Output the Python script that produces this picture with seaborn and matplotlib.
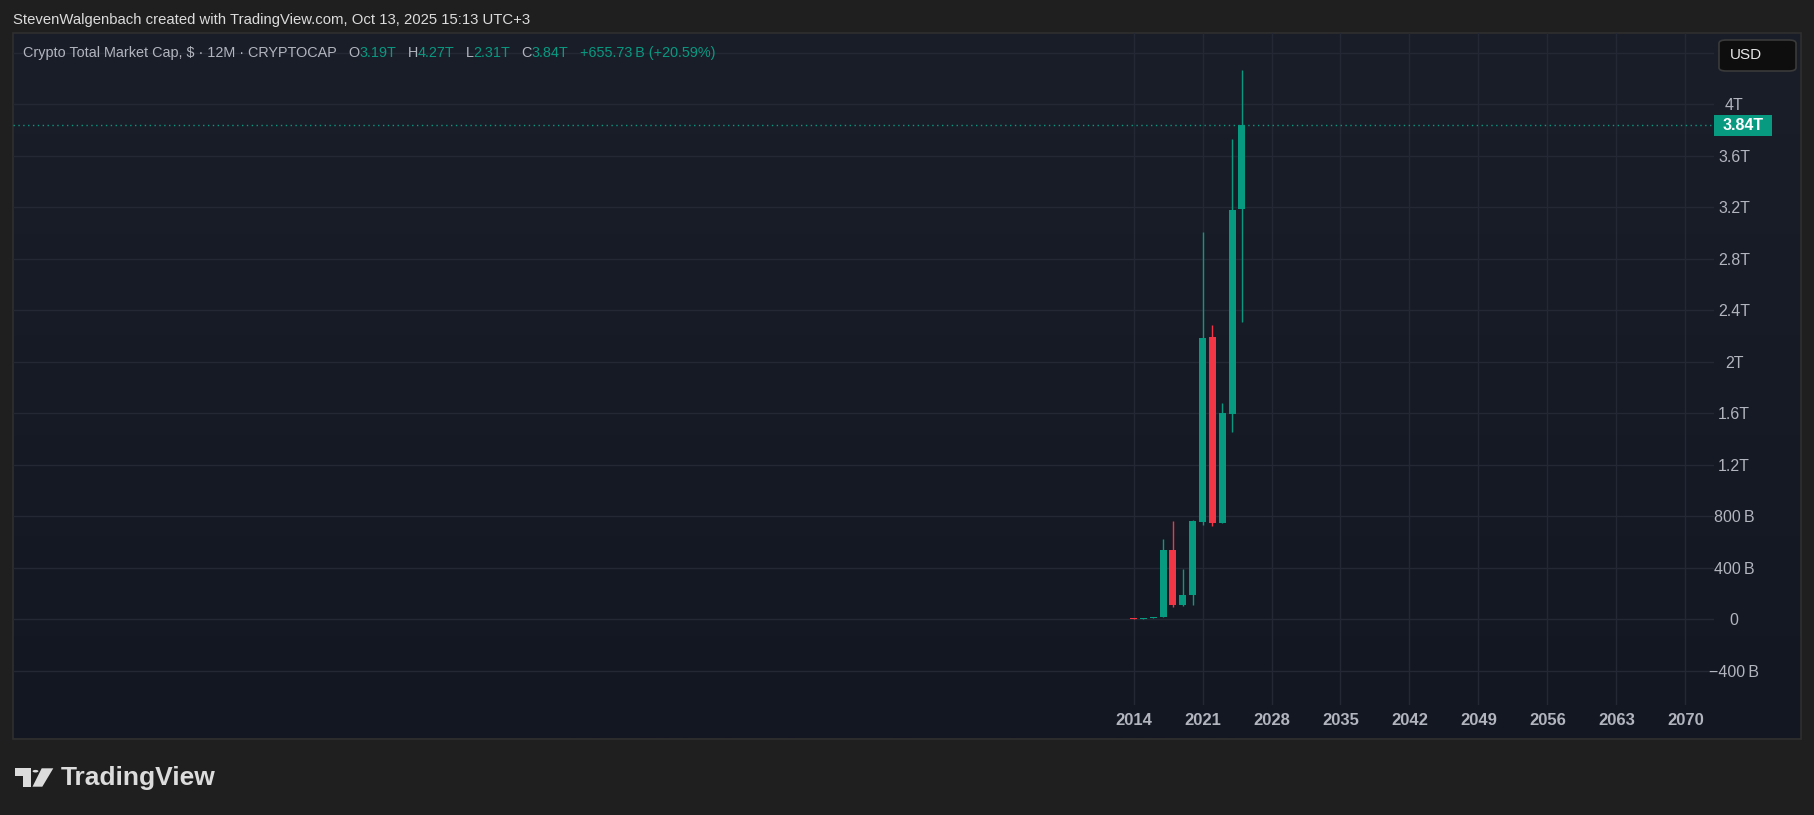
import numpy as np
import pandas as pd
import seaborn as sns
import matplotlib.pyplot as plt
from matplotlib.patches import Rectangle, FancyBboxPatch, Circle, Polygon
from matplotlib.colors import LinearSegmentedColormap
import matplotlib.transforms as mtrans

# yearly candles, values in trillions USD
years = [2014, 2015, 2016, 2017, 2018, 2019, 2020, 2021, 2022, 2023, 2024, 2025]
opens = [0.0105, 0.0055, 0.0071, 0.0177, 0.538, 0.111, 0.185, 0.756, 2.194, 0.748, 1.598, 3.19]
highs = [0.0125, 0.0080, 0.0180, 0.625, 0.764, 0.391, 0.772, 3.010, 2.289, 1.680, 3.732, 4.27]
lows = [0.0048, 0.0030, 0.0065, 0.0170, 0.098, 0.103, 0.111, 0.733, 0.725, 0.745, 1.455, 2.31]
closes = [0.0055, 0.0071, 0.0177, 0.538, 0.111, 0.185, 0.764, 2.186, 0.748, 1.603, 3.182, 3.84]

x_ticks = list(range(2014, 2071, 7))
y_ticks = [-0.4, 0, 0.4, 0.8, 1.2, 1.6, 2.0, 2.4, 2.8, 3.2, 3.6, 4.0, 4.4]
change_text = "+655.73\u2009B (+20.59%)"
header = "StevenWalgenbach created with TradingView.com, Oct 13, 2025 15:13 UTC+3"
symbol = "Crypto Total Market Cap, $ \u00b7 12M \u00b7 CRYPTOCAP"

df = pd.DataFrame({"year": years, "open": opens, "high": highs, "low": lows, "close": closes})
df["up"] = df["close"] >= df["open"]

GREEN = "#089981"
RED = "#f23645"
TXT = "#b2b5be"
OUTER = "#1f1f1f"

sns.set_theme(style="dark")
plt.rcParams["font.family"] = ["Liberation Sans", "DejaVu Sans"]

W, H = 1814, 815
fig = plt.figure(figsize=(W / 100, H / 100), dpi=100, facecolor=OUTER)


def fx(px):
    return px / W


def fy(py):
    return 1 - py / H


# panel background with soft vertical gradient
pl, pt, pr, pb = 12.5, 33.3, 1800.5, 738.5
bg = fig.add_axes([fx(pl), fy(pb), fx(pr - pl), (pb - pt) / H], zorder=0)
cmap = LinearSegmentedColormap.from_list("tv", ["#1a1e29", "#131722"])
bg.imshow(np.linspace(0, 1, 256).reshape(-1, 1), aspect="auto", cmap=cmap, extent=[0, 1, 0, 1])
bg.set_axis_off()
fig.patches.append(Rectangle((fx(pl), fy(pb)), fx(pr - pl), (pb - pt) / H, transform=fig.transFigure,
                             fill=False, ec="#2f2f2f", lw=1.2, zorder=1))

# main chart axes
al, at, ar, ab = 13, 33.3, 1714, 705
ax = fig.add_axes([fx(al), fy(ab), fx(ar - al), (ab - at) / H], zorder=2)
ax.set_facecolor("none")

colors = [GREEN if u else RED for u in df["up"]]
body_lo = df[["open", "close"]].min(axis=1)
body_h = (df["open"] - df["close"]).abs().clip(lower=0.004)
ax.vlines(df["year"], df["low"], df["high"], colors=colors, lw=1, zorder=3)
ax.bar(df["year"], body_h, bottom=body_lo, width=0.72, color=colors, lw=0, zorder=4)

last_close = df["close"].iloc[-1]
ax.axhline(last_close, color=GREEN, lw=1, ls=(0, (1, 2.5)), zorder=2)

ax.set_xlim(1900.3, 2072.9)
ax.set_ylim(-0.666, 4.553)
ax.set_xticks(x_ticks)
ax.set_xticklabels([str(y) for y in x_ticks], fontsize=12, fontweight="bold", color=TXT)


def fmt(v):
    if abs(v) < 1e-9:
        return "0"
    if v == 4.4:
        return ""
    if abs(v) >= 1:
        return f"{v:g}T"
    s = f"{abs(v) * 1000:.0f}\u2009B"
    return ("\u2212" + s) if v < 0 else s


ax.yaxis.tick_right()
ax.set_yticks(y_ticks)
ax.set_yticklabels([fmt(v) for v in y_ticks], fontsize=11.5, color=TXT)
ax.tick_params(axis="x", length=0, pad=6)
ax.tick_params(axis="y", length=0, pad=14.5)
for lab in ax.get_yticklabels():
    lab.set_horizontalalignment("center")
ax.grid(True, color="#242834", lw=1)
for s in ax.spines.values():
    s.set_visible(False)

# last price tag on price scale
blend = mtrans.blended_transform_factory(ax.transAxes, ax.transData)
px_per_unit = (ab - at) / (4.553 + 0.666)
tag_h = 21 / px_per_unit
x0 = (1714 - al) / (ar - al)
x1 = (1772 - al) / (ar - al)
ax.add_patch(Rectangle((x0, last_close - tag_h / 2), x1 - x0, tag_h, transform=blend,
                       fc=GREEN, ec="none", clip_on=False, zorder=6))
ax.text((x0 + x1) / 2, last_close, f"{last_close:.2f}T", transform=blend, ha="center", va="center",
        fontsize=11.5, fontweight="bold", color="white", clip_on=False, zorder=7)

# header and legend
fig.text(fx(13), fy(20), header, fontsize=10.7, color="#dcdcdc", va="center", ha="left")
o, hi, lo, c = opens[-1], highs[-1], lows[-1], closes[-1]
pieces = [(symbol, TXT, 12), ("O", TXT, 0), (f"{o:.2f}T", GREEN, 11),
          ("H", TXT, 0), (f"{hi:.2f}T", GREEN, 11), ("L", TXT, 0), (f"{lo:.2f}T", GREEN, 11),
          ("C", TXT, 0), (f"{c:.2f}T", GREEN, 11), (change_text, GREEN, 0)]
renderer = fig.canvas.get_renderer()
xpos = 23
for txt, col, gap in pieces:
    t = fig.text(fx(xpos), fy(53), txt, fontsize=10.4, color=col, va="center", ha="left", zorder=5)
    bb = t.get_window_extent(renderer)
    xpos += bb.width + gap

# currency button
fig.patches.append(FancyBboxPatch((fx(1719), fy(71)), fx(77), 31 / H, boxstyle="round,pad=0,rounding_size=0.004",
                                  transform=fig.transFigure, fc="#0e0e0e", ec="#3a3a3a", lw=1.2, zorder=5))
fig.text(fx(1730), fy(55), "USD", fontsize=11, color="#e6e6e6", va="center", ha="left", zorder=6)

# TradingView logo
logo = "#dcdcdc"
fig.patches.append(Polygon([(fx(15), fy(768.3)), (fx(30.7), fy(768.3)), (fx(30.7), fy(786.7)),
                            (fx(23.3), fy(786.7)), (fx(23.3), fy(775.7)), (fx(15), fy(775.7))],
                           closed=True, transform=fig.transFigure, fc=logo, ec="none"))
fig.patches.append(Polygon([(fx(41.7), fy(768.3)), (fx(53.3), fy(768.3)), (fx(42.3), fy(786.7)),
                            (fx(32.5), fy(786.7))], closed=True, transform=fig.transFigure, fc=logo, ec="none"))
fig.patches.append(Circle((fx(35.5), fy(771.2)), 2.9 / W, transform=fig.transFigure, fc=logo, ec="none"))
fig.text(fx(61), fy(777.5), "TradingView", fontsize=19, fontweight="bold", color=logo, va="center", ha="left")

fig.savefig("out.png", dpi=100, facecolor=OUTER)
